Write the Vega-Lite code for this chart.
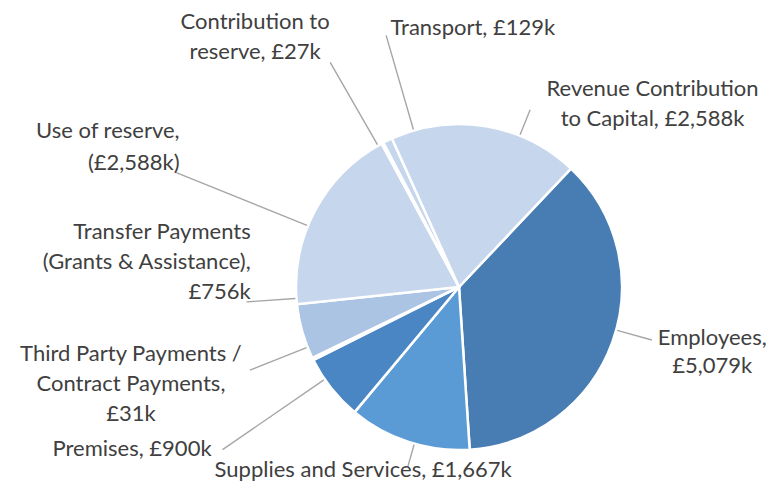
{
  "$schema": "https://vega.github.io/schema/vega-lite/v6.json",
  "autosize": "none",
  "width": 642,
  "height": 394,
  "padding": {"left": 138, "top": 90, "right": 0, "bottom": 0},
  "background": "white",
  "view": {"stroke": null},
  "config": {
    "text": {"font": "Lato", "fontSize": 22, "lineHeight": 30, "color": "#404040", "baseline": "middle", "lineBreak": "\n"},
    "arc": {"stroke": "#a6a6a6", "strokeWidth": 1.4, "fill": "transparent", "innerRadius": 164}
  },
  "data": {"values": [
    {"cat": "Employees", "value": 5079, "label": "Employees,\n£5,079k"},
    {"cat": "Supplies and Services", "value": 1667, "label": "Supplies and Services, £1,667k"},
    {"cat": "Premises", "value": 900, "label": "Premises, £900k"},
    {"cat": "Third Party Payments / Contract Payments", "value": 31, "label": "Third Party Payments /\nContract Payments,\n£31k"},
    {"cat": "Transfer Payments (Grants & Assistance)", "value": 756, "label": "Transfer Payments\n(Grants & Assistance),\n£756k"},
    {"cat": "Use of reserve", "value": 2588, "label": "Use of reserve,\n(£2,588k)"},
    {"cat": "Contribution to reserve", "value": 27, "label": "Contribution to\nreserve, £27k"},
    {"cat": "Transport", "value": 129, "label": "Transport, £129k"},
    {"cat": "Revenue Contribution to Capital", "value": 2588, "label": "Revenue Contribution\nto Capital, £2,588k"}
  ]},
  "transform": [{"stack": "value", "groupby": [], "as": ["v0", "v1"]}],
  "layer": [
    {
      "mark": {"type": "arc", "innerRadius": 0, "outerRadius": 163, "stroke": "white", "strokeWidth": 2.5},
      "encoding": {
        "theta": {"field": "v0", "type": "quantitative", "scale": {"domain": [0, 13765], "range": [0.75747, 7.04066]}},
        "theta2": {"field": "v1"},
        "color": {"field": "cat", "type": "nominal", "legend": null, "scale": {
          "domain": ["Employees", "Supplies and Services", "Premises", "Third Party Payments / Contract Payments", "Transfer Payments (Grants & Assistance)", "Use of reserve", "Contribution to reserve", "Transport", "Revenue Contribution to Capital"],
          "range": ["#487db3", "#5b9bd5", "#4b86c4", "#4b86c4", "#abc4e4", "#c6d6ec", "#c6d6ec", "#c6d6ec", "#c6d6ec"]}}
      }
    },
    {"transform": [{"filter": {"field": "cat", "equal": "Transport"}}],
     "mark": {"type": "arc", "outerRadius": 262, "thetaOffset": 0.2009, "theta2Offset": 0.2009},
     "encoding": {"theta": {"field": "v0", "type": "quantitative", "scale": {"domain": [0, 13765], "range": [0.75747, 7.04066]}}, "theta2": {"field": "v0"}}},
    {"transform": [{"filter": {"field": "cat", "equal": "Contribution to reserve"}}],
     "mark": {"type": "arc", "outerRadius": 259, "thetaOffset": -0.0255, "theta2Offset": -0.0255},
     "encoding": {"theta": {"field": "v0", "type": "quantitative", "scale": {"domain": [0, 13765], "range": [0.75747, 7.04066]}}, "theta2": {"field": "v0"}}},
    {"transform": [{"filter": {"field": "cat", "equal": "Revenue Contribution to Capital"}}],
     "mark": {"type": "arc", "outerRadius": 191, "thetaOffset": 0.8055, "theta2Offset": 0.8055},
     "encoding": {"theta": {"field": "v0", "type": "quantitative", "scale": {"domain": [0, 13765], "range": [0.75747, 7.04066]}}, "theta2": {"field": "v0"}}},
    {"transform": [{"filter": {"field": "cat", "equal": "Employees"}}],
     "mark": {"type": "arc", "outerRadius": 200, "thetaOffset": 1.0814, "theta2Offset": 1.0814},
     "encoding": {"theta": {"field": "v0", "type": "quantitative", "scale": {"domain": [0, 13765], "range": [0.75747, 7.04066]}}, "theta2": {"field": "v0"}}},
    {"transform": [{"filter": {"field": "cat", "equal": "Supplies and Services"}}],
     "mark": {"type": "arc", "outerRadius": 186, "thetaOffset": 0.3433, "theta2Offset": 0.3433},
     "encoding": {"theta": {"field": "v0", "type": "quantitative", "scale": {"domain": [0, 13765], "range": [0.75747, 7.04066]}}, "theta2": {"field": "v0"}}},
    {"transform": [{"filter": {"field": "cat", "equal": "Premises"}}],
     "mark": {"type": "arc", "outerRadius": 287, "thetaOffset": 0.2731, "theta2Offset": 0.2731},
     "encoding": {"theta": {"field": "v0", "type": "quantitative", "scale": {"domain": [0, 13765], "range": [0.75747, 7.04066]}}, "theta2": {"field": "v0"}}},
    {"transform": [{"filter": {"field": "cat", "equal": "Third Party Payments / Contract Payments"}}],
     "mark": {"type": "arc", "outerRadius": 225, "thetaOffset": 0.0867, "theta2Offset": 0.0867},
     "encoding": {"theta": {"field": "v0", "type": "quantitative", "scale": {"domain": [0, 13765], "range": [0.75747, 7.04066]}}, "theta2": {"field": "v0"}}},
    {"transform": [{"filter": {"field": "cat", "equal": "Transfer Payments (Grants & Assistance)"}}],
     "mark": {"type": "arc", "outerRadius": 213, "thetaOffset": 0.3808, "theta2Offset": 0.3808},
     "encoding": {"theta": {"field": "v0", "type": "quantitative", "scale": {"domain": [0, 13765], "range": [0.75747, 7.04066]}}, "theta2": {"field": "v0"}}},
    {"transform": [{"filter": {"field": "cat", "equal": "Use of reserve"}}],
     "mark": {"type": "arc", "outerRadius": 305, "thetaOffset": 0.4903, "theta2Offset": 0.4903},
     "encoding": {"theta": {"field": "v0", "type": "quantitative", "scale": {"domain": [0, 13765], "range": [0.75747, 7.04066]}}, "theta2": {"field": "v0"}}},
    {
      "transform": [{"filter": {"field": "cat", "equal": "Transport"}}],
      "mark": {"type": "text", "radius": 266, "thetaOffset": 0.0294, "dx": 48, "dy": -20, "align": "left"},
      "encoding": {"theta": {"field": "v0", "type": "quantitative", "scale": {"domain": [0, 13765], "range": [0.75747, 7.04066]}}, "text": {"field": "label"}}
    },
    {
      "transform": [{"filter": {"field": "cat", "equal": "Contribution to reserve"}}],
      "mark": {"type": "text", "radius": 300, "thetaOffset": 0.0062, "dx": -63, "dy": 0, "align": "center"},
      "encoding": {"theta": {"field": "v0", "type": "quantitative", "scale": {"domain": [0, 13765], "range": [0.75747, 7.04066]}}, "text": {"field": "label"}}
    },
    {
      "transform": [{"filter": {"field": "cat", "equal": "Revenue Contribution to Capital"}}],
      "mark": {"type": "text", "radius": 190, "thetaOffset": 0.5906, "dx": 162, "dy": -11, "align": "center"},
      "encoding": {"theta": {"field": "v0", "type": "quantitative", "scale": {"domain": [0, 13765], "range": [0.75747, 7.04066]}}, "text": {"field": "label"}}
    },
    {
      "transform": [{"filter": {"field": "cat", "equal": "Employees"}}],
      "mark": {"type": "text", "radius": 250, "thetaOffset": 1.1592, "dx": 18, "dy": -34, "align": "center", "lineHeight": 28},
      "encoding": {"theta": {"field": "v0", "type": "quantitative", "scale": {"domain": [0, 13765], "range": [0.75747, 7.04066]}}, "text": {"field": "label"}}
    },
    {
      "transform": [{"filter": {"field": "cat", "equal": "Supplies and Services"}}],
      "mark": {"type": "text", "radius": 190, "thetaOffset": 0.3805, "dx": -37, "dy": 2, "align": "center"},
      "encoding": {"theta": {"field": "v0", "type": "quantitative", "scale": {"domain": [0, 13765], "range": [0.75747, 7.04066]}}, "text": {"field": "label"}}
    },
    {
      "transform": [{"filter": {"field": "cat", "equal": "Premises"}}],
      "mark": {"type": "text", "radius": 280, "thetaOffset": 0.2054, "dx": -28, "dy": -12, "align": "right"},
      "encoding": {"theta": {"field": "v0", "type": "quantitative", "scale": {"domain": [0, 13765], "range": [0.75747, 7.04066]}}, "text": {"field": "label"}}
    },
    {
      "transform": [{"filter": {"field": "cat", "equal": "Third Party Payments / Contract Payments"}}],
      "mark": {"type": "text", "radius": 320, "thetaOffset": 0.0071, "dx": -41, "dy": -74, "align": "center"},
      "encoding": {"theta": {"field": "v0", "type": "quantitative", "scale": {"domain": [0, 13765], "range": [0.75747, 7.04066]}}, "text": {"field": "label"}}
    },
    {
      "transform": [{"filter": {"field": "cat", "equal": "Transfer Payments (Grants & Assistance)"}}],
      "mark": {"type": "text", "radius": 200, "thetaOffset": 0.1725, "dx": -16, "dy": -110, "align": "right"},
      "encoding": {"theta": {"field": "v0", "type": "quantitative", "scale": {"domain": [0, 13765], "range": [0.75747, 7.04066]}}, "text": {"field": "label"}}
    },
    {
      "transform": [{"filter": {"field": "cat", "equal": "Use of reserve"}}],
      "mark": {"type": "text", "radius": 300, "thetaOffset": 0.5906, "dx": -14, "dy": -16, "align": "right", "lineHeight": 32},
      "encoding": {"theta": {"field": "v0", "type": "quantitative", "scale": {"domain": [0, 13765], "range": [0.75747, 7.04066]}}, "text": {"field": "label"}}
    }
  ]
}
